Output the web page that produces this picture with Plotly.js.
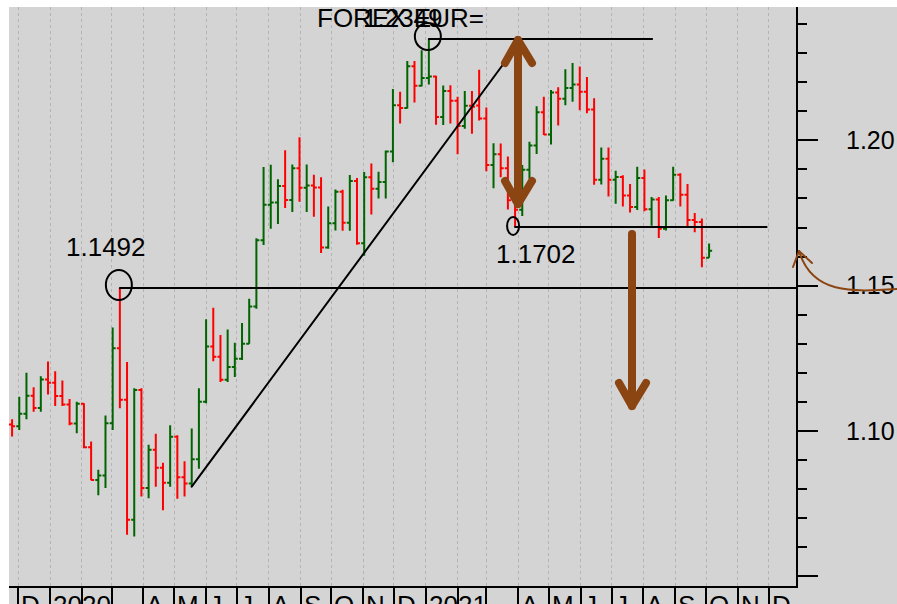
<!DOCTYPE html>
<html>
<head>
<meta charset="utf-8">
<script src="https://cdn.plot.ly/plotly-3.0.1.min.js"></script>
<style>
html,body{margin:0;padding:0;background:#fff;}
#chart{width:897px;height:604px;}
.shapelayer path{stroke-linecap:round;stroke-linejoin:round;}
</style>
</head>
<body>
<div id="chart"></div>
<script>
// ---- DATA (weekly EUR= bars) ----
const weeks = ['2019-11-25','2019-12-02','2019-12-09','2019-12-16','2019-12-23','2019-12-30',
'2020-01-06','2020-01-13','2020-01-20','2020-01-27','2020-02-03','2020-02-10','2020-02-17','2020-02-24',
'2020-03-02','2020-03-09','2020-03-16','2020-03-23','2020-03-30','2020-04-06','2020-04-13','2020-04-20',
'2020-04-27','2020-05-04','2020-05-11','2020-05-18','2020-05-25','2020-06-01','2020-06-08','2020-06-15',
'2020-06-22','2020-06-29','2020-07-06','2020-07-13','2020-07-20','2020-07-27','2020-08-03','2020-08-10',
'2020-08-17','2020-08-24','2020-08-31','2020-09-07','2020-09-14','2020-09-21','2020-09-28','2020-10-05',
'2020-10-12','2020-10-19','2020-10-26','2020-11-02','2020-11-09','2020-11-16','2020-11-23','2020-11-30',
'2020-12-07','2020-12-14','2020-12-21','2020-12-28','2021-01-04','2021-01-11','2021-01-18','2021-01-25',
'2021-02-01','2021-02-08','2021-02-15','2021-02-22','2021-03-01','2021-03-08','2021-03-15','2021-03-22',
'2021-03-29','2021-04-05','2021-04-12','2021-04-19','2021-04-26','2021-05-03','2021-05-10','2021-05-17',
'2021-05-24','2021-05-31','2021-06-07','2021-06-14','2021-06-21','2021-06-28','2021-07-05','2021-07-12',
'2021-07-19','2021-07-26','2021-08-02','2021-08-09','2021-08-16','2021-08-23','2021-08-30','2021-09-06',
'2021-09-13','2021-09-20','2021-09-27','2021-10-04'];

const openP = [1.1022,1.1016,1.1059,1.1121,1.1079,1.1177,1.1166,1.1120,1.1091,1.1025,1.1093,1.0944,1.0831,1.0846,
1.1026,1.1284,1.1107,1.0694,1.1141,1.0803,1.0935,1.0873,1.0821,1.0980,1.0840,1.0819,1.0902,1.1100,1.1290,1.1255,
1.1176,1.1220,1.1248,1.1300,1.1428,1.1656,1.1778,1.1786,1.1843,1.1795,1.1904,1.1837,1.1845,1.1838,1.1631,1.1715,
1.1823,1.1716,1.1860,1.1646,1.1873,1.1833,1.1857,1.1962,1.2121,1.2111,1.2255,1.2188,1.2215,1.2220,1.2080,1.2170,
1.2136,1.2049,1.2119,1.2120,1.2075,1.1915,1.1952,1.1904,1.1794,1.1761,1.1899,1.1982,1.2097,1.2020,1.2165,1.2143,
1.2180,1.2192,1.2167,1.2106,1.1864,1.1937,1.1864,1.1874,1.1810,1.1771,1.1870,1.1763,1.1796,1.1696,1.1794,1.1882,
1.1813,1.1726,1.1719,1.1596];

const highP = [1.1040,1.1117,1.1200,1.1150,1.1188,1.1239,1.1205,1.1173,1.1110,1.1100,1.1095,1.0963,1.0866,1.1053,
1.1356,1.1492,1.1237,1.1147,1.1147,1.0952,1.0990,1.0890,1.1019,1.0985,1.0895,1.1008,1.1147,1.1384,1.1424,1.1330,
1.1349,1.1303,1.1371,1.1455,1.1663,1.1908,1.1916,1.1866,1.1966,1.1917,1.2011,1.1917,1.1882,1.1873,1.1772,1.1831,
1.1830,1.1881,1.1870,1.1891,1.1920,1.1892,1.1965,1.2177,1.2167,1.2273,1.2273,1.2310,1.2349,1.2222,1.2189,1.2190,
1.2150,1.2170,1.2170,1.2243,1.2113,1.1990,1.1989,1.1944,1.1810,1.1915,1.1995,1.2117,1.2150,1.2173,1.2183,1.2245,
1.2266,1.2254,1.2218,1.2145,1.1975,1.1975,1.1895,1.1880,1.1850,1.1909,1.1900,1.1805,1.1805,1.1810,1.1909,1.1887,
1.1850,1.1750,1.1731,1.1645];

const lowP = [1.0981,1.1003,1.1040,1.1066,1.1066,1.1125,1.1086,1.1086,1.1019,1.0992,1.0940,1.0830,1.0778,1.0803,
1.1003,1.1078,1.0642,1.0636,1.0774,1.0768,1.0808,1.0727,1.0808,1.0766,1.0774,1.0808,1.0870,1.1095,1.1240,1.1168,
1.1168,1.1185,1.1244,1.1300,1.1420,1.1640,1.1696,1.1712,1.1767,1.1753,1.1789,1.1753,1.1737,1.1612,1.1627,1.1690,
1.1689,1.1689,1.1641,1.1603,1.1745,1.1800,1.1800,1.1925,1.2058,1.2110,1.2130,1.2185,1.2192,1.2054,1.2053,1.2058,
1.1952,1.2040,1.2023,1.2068,1.1894,1.1835,1.1873,1.1762,1.1702,1.1740,1.1868,1.1953,1.2018,1.1986,1.2051,1.2121,
1.2133,1.2104,1.2093,1.1847,1.1848,1.1807,1.1782,1.1772,1.1752,1.1760,1.1756,1.1706,1.1664,1.1690,1.1792,1.1772,
1.1700,1.1684,1.1563,1.1596];

const closeP = [1.1016,1.1059,1.1121,1.1079,1.1177,1.1166,1.1120,1.1091,1.1025,1.1093,1.0944,1.0831,1.0846,1.1026,
1.1284,1.1107,1.0694,1.1141,1.0803,1.0935,1.0873,1.0821,1.0980,1.0840,1.0819,1.0902,1.1100,1.1290,1.1255,1.1176,
1.1220,1.1248,1.1300,1.1428,1.1656,1.1778,1.1786,1.1843,1.1795,1.1904,1.1837,1.1845,1.1838,1.1631,1.1715,1.1823,
1.1716,1.1860,1.1646,1.1873,1.1833,1.1857,1.1962,1.2121,1.2111,1.2255,1.2188,1.2215,1.2220,1.2080,1.2170,1.2136,
1.2049,1.2119,1.2116,1.2075,1.1915,1.1952,1.1904,1.1794,1.1761,1.1899,1.1982,1.2097,1.2020,1.2165,1.2143,1.2180,
1.2192,1.2167,1.2106,1.1864,1.1937,1.1864,1.1874,1.1810,1.1771,1.1870,1.1763,1.1796,1.1696,1.1794,1.1882,1.1813,
1.1726,1.1719,1.1596,1.1620];

const monthStarts = ['2019-12-01','2020-01-01','2020-02-01','2020-03-01','2020-04-01','2020-05-01','2020-06-01',
'2020-07-01','2020-08-01','2020-09-01','2020-10-01','2020-11-01','2020-12-01','2021-01-01','2021-02-01',
'2021-03-01','2021-04-01','2021-05-01','2021-06-01','2021-07-01','2021-08-01','2021-09-01','2021-10-01',
'2021-11-01','2021-12-01'];
const monthLabels = ['D','2020','','','A','M','J','J','A','S','O','N','D','2021','','','A','M','J','J','A','S','O','N','D'];

const yTickVals = [1.05, 1.10, 1.15, 1.20];
const yTickText = ['', '1.10', '1.15', '1.20'];

const chartTitle = 'FOREX EUR=';

// ---- key levels derived from the data ----
const iPeak = highP.indexOf(Math.max(...highP));      // 1.2349
const iSpike = 15;                                     // March 2020 spike high 1.1492
const iSupport = 70;                                   // March 2021 low 1.1702
const iTrendLow = 25;                                  // May 2020 trend-line start
const peak = highP[iPeak], spike = highP[iSpike], support = lowP[iSupport];

// ---- pixel helpers for hand-drawn decorations ----
const PL = 9, PT = 7, PW = 787, PH = 579;
const px = x => (x - PL) / PW;
const py = y => (PT + PH - y) / PH;
const P = pts => pts.map((p, k) => (k ? 'L' : 'M') + px(p[0]) + ',' + py(p[1])).join(' ');

const brown = '#8B4513';
const FONT = 'Liberation Sans, Arial, Helvetica, sans-serif';

const trace = {
  type: 'ohlc', x: weeks, open: openP, high: highP, low: lowP, close: closeP,
  increasing: {line: {color: '#006400', width: 2}},
  decreasing: {line: {color: '#ff0000', width: 2}},
  tickwidth: 0.42, hoverinfo: 'skip', showlegend: false
};

const shapes = [
  // white page margins (top and left)
  {type:'rect', xref:'paper', yref:'paper', x0:px(0), x1:px(897), y0:py(7), y1:py(-5), fillcolor:'#fff', line:{width:0}},
  {type:'rect', xref:'paper', yref:'paper', x0:px(-5), x1:px(9), y0:py(620), y1:py(-5), fillcolor:'#fff', line:{width:0}},
  // horizontal levels
  {type:'line', xref:'x', yref:'y', x0:weeks[iSpike], x1:'2021-12-27 16:00', y0:spike, y1:spike, line:{color:'#000', width:2}},
  {type:'line', xref:'x', yref:'y', x0:weeks[iPeak], x1:'2021-08-09 12:00', y0:peak, y1:peak, line:{color:'#000', width:2}},
  {type:'line', xref:'x', yref:'y', x0:weeks[iSupport], x1:'2021-11-29', y0:support, y1:support, line:{color:'#000', width:2}},
  // trend line
  {type:'line', xref:'x', yref:'y', x0:weeks[iTrendLow], y0:lowP[iTrendLow], x1:'2021-03-18 12:00', y1:1.2267, line:{color:'#000', width:2}},
  // circles
  {type:'circle', xref:'x', yref:'y', xsizemode:'pixel', ysizemode:'pixel', xanchor:weeks[iSpike], yanchor:spike,
   x0:-14, x1:12, y0:-12, y1:18, line:{color:'#000', width:2}},
  {type:'circle', xref:'x', yref:'y', xsizemode:'pixel', ysizemode:'pixel', xanchor:weeks[iPeak], yanchor:peak,
   x0:-14, x1:12, y0:-11, y1:16, line:{color:'#000', width:2}},
  {type:'circle', xref:'x', yref:'y', xsizemode:'pixel', ysizemode:'pixel', xanchor:weeks[iSupport], yanchor:support,
   x0:-8, x1:4, y0:-8, y1:10, line:{color:'#000', width:2}},
  // brown double arrow
  {type:'path', xref:'paper', yref:'paper', path:P([[518,40],[518,204]]), line:{color:brown, width:8}},
  {type:'path', xref:'paper', yref:'paper', path:P([[505,63],[518,40],[532,63]]), line:{color:brown, width:8}},
  {type:'path', xref:'paper', yref:'paper', path:P([[505,181],[518,204],[532,181]]), line:{color:brown, width:8}},
  // brown down arrow
  {type:'path', xref:'paper', yref:'paper', path:P([[632,234],[632,406]]), line:{color:brown, width:8}},
  {type:'path', xref:'paper', yref:'paper', path:P([[619,383],[632,406],[646,383]]), line:{color:brown, width:8}},
  // curved arrow on the right
  {type:'path', xref:'paper', yref:'paper',
   path:'M'+px(899)+','+py(289)+' C'+px(850)+','+py(292)+' '+px(812)+','+py(294)+' '+px(799)+','+py(251),
   line:{color:brown, width:2}},
  {type:'path', xref:'paper', yref:'paper', path:P([[793,267],[799,251],[812,263]]), line:{color:brown, width:2}}
];

const annotations = [
  {xref:'paper', yref:'paper', x:px(400), y:py(18), text:chartTitle, showarrow:false, xanchor:'center', yanchor:'middle',
   font:{family:FONT, size:26, color:'#000'}},
  {xref:'paper', yref:'paper', x:px(403), y:py(18), text:peak.toFixed(4), showarrow:false, xanchor:'center', yanchor:'middle',
   font:{family:FONT, size:26, color:'#000'}},
  {xref:'paper', yref:'paper', x:px(106), y:py(247), text:spike.toFixed(4), showarrow:false, xanchor:'center', yanchor:'middle',
   font:{family:FONT, size:26, color:'#000'}},
  {xref:'paper', yref:'paper', x:px(536), y:py(254), text:support.toFixed(4), showarrow:false, xanchor:'center', yanchor:'middle',
   font:{family:FONT, size:26, color:'#000'}}
];
monthStarts.forEach((d, k) => {
  if (!monthLabels[k]) return;
  annotations.push({xref:'x', yref:'paper', x:d, y:py(588), xshift:1, text:monthLabels[k], showarrow:false,
    xanchor:'left', yanchor:'top', font:{family:FONT, size:26, color:'#000'}});
});

const layout = {
  width: 897, height: 604,
  margin: {l: PL, r: 897 - PL - PW, t: PT, b: 604 - PT - PH, pad: 0},
  paper_bgcolor: '#d4d4d4', plot_bgcolor: '#d4d4d4',
  font: {family: FONT, size: 25, color: '#000'},
  showlegend: false,
  dragmode: false,
  xaxis: {
    type: 'date', range: ['2019-11-22', '2021-12-27 16:00'],
    rangeslider: {visible: false},
    tickmode: 'array', tickvals: monthStarts, showticklabels: false,
    ticks: 'outside', ticklen: 20, tickwidth: 2, tickcolor: '#000',
    showline: true, linecolor: '#000', linewidth: 2,
    showgrid: true, gridcolor: '#b4b4b4', griddash: 'dot', gridwidth: 1,
    zeroline: false, fixedrange: true
  },
  yaxis: {
    side: 'right', range: [1.0466, 1.2459],
    tickmode: 'array', tickvals: yTickVals, ticktext: yTickText,
    ticks: 'outside', ticklen: 20, tickwidth: 2, tickcolor: '#000',
    ticklabelstandoff: 23,
    minor: {tick0: 1.05, dtick: 0.01, ticks: 'outside', ticklen: 9, tickwidth: 2, tickcolor: '#000', showgrid: false},
    showline: true, linecolor: '#000', linewidth: 2,
    showgrid: false, zeroline: false, fixedrange: true,
    tickfont: {family: FONT, size: 25, color: '#000'}
  },
  shapes: shapes,
  annotations: annotations
};

Plotly.newPlot('chart', [trace], layout, {staticPlot: true, displayModeBar: false});
</script>
</body>
</html>
